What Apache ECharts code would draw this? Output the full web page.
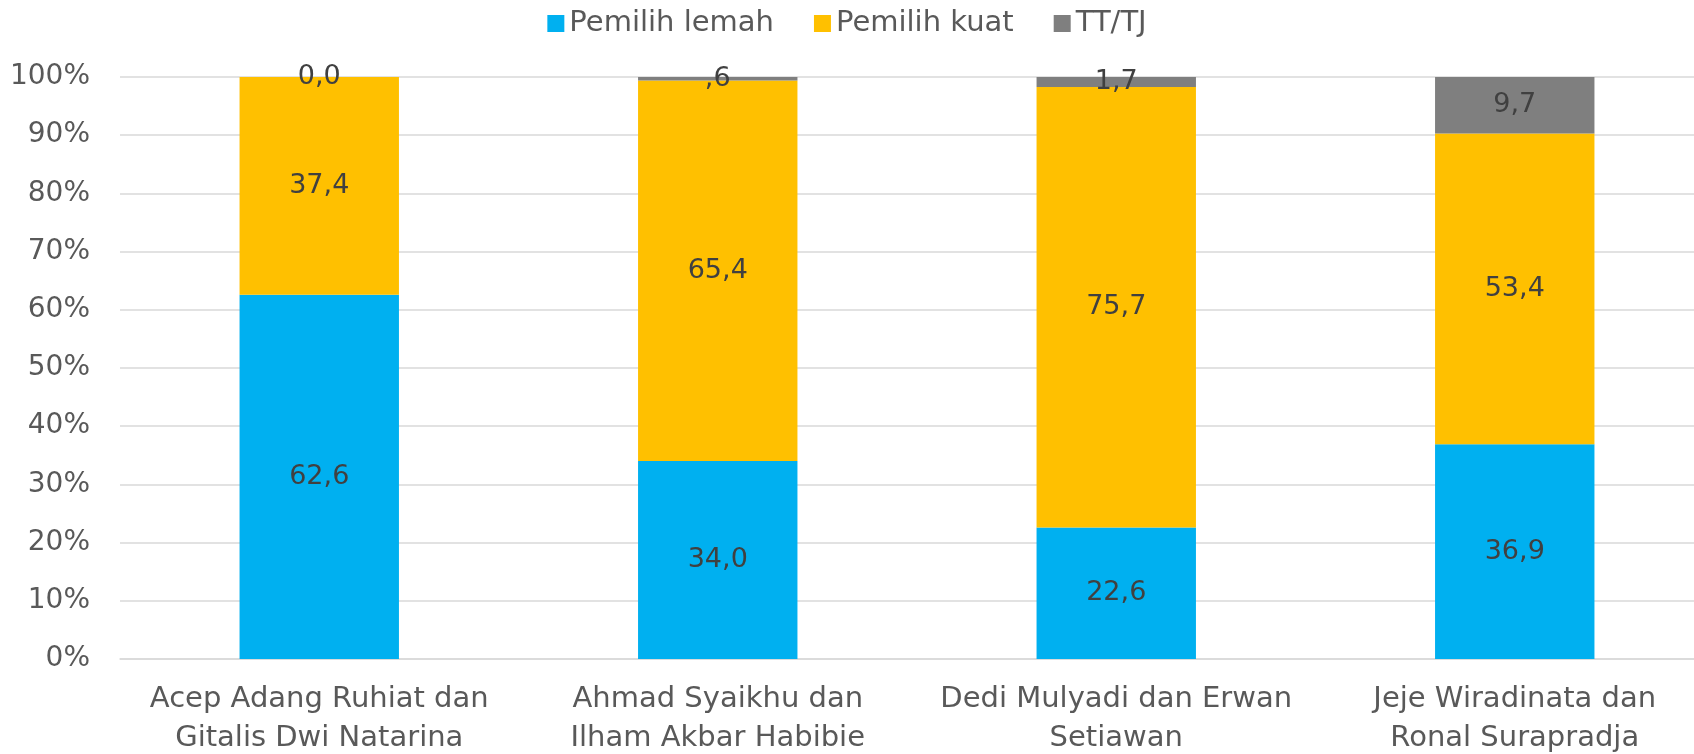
<!DOCTYPE html>
<html>
<head>
<meta charset="utf-8">
<script src="https://cdn.jsdelivr.net/npm/echarts@6/dist/echarts.min.js"></script>
<style>
  html, body { margin: 0; padding: 0; background: #fff; }
  #chart { width: 1694px; height: 754px; }
</style>
</head>
<body>
<div id="chart"></div>
<script>
const categories = [
  'Acep Adang Ruhiat dan\nGitalis Dwi Natarina',
  'Ahmad Syaikhu dan\nIlham Akbar Habibie',
  'Dedi Mulyadi dan Erwan\nSetiawan',
  'Jeje Wiradinata dan\nRonal Surapradja'
]
const lemah = [62.6, 34.0, 22.6, 36.9]
const kuat = [37.4, 65.4, 75.7, 53.4]
const ttj = [0.0, 0.6, 1.7, 9.7]
const yTicks = [0, 10, 20, 30, 40, 50, 60, 70, 80, 90, 100]

const font = 'DejaVu Sans'

// excel style: comma decimal, no leading zero below 1 (except 0)
function fmt(v) {
  if (v === 0) return '0,0'
  let s = v.toFixed(1).replace('.', ',')
  if (v < 1) s = s.slice(1)
  return s
}

function bar(name, data, color) {
  return {
    name: name,
    type: 'bar',
    stack: 'total',
    data: data,
    barWidth: '40%',
    itemStyle: { color: color },
    label: {
      show: true,
      position: 'inside',
      color: '#404040',
      fontFamily: font,
      fontSize: 27,
      formatter: (p) => fmt(p.value),
    },
  }
}

const chart = echarts.init(document.getElementById('chart'))
chart.setOption({
  animation: false,
  legend: {
    top: 4,
    left: 'center',
    itemWidth: 17,
    itemHeight: 17,
    itemGap: 40,
    icon: 'rect',
    textStyle: { color: '#595959', fontFamily: font, fontSize: 29 },
  },
  grid: {
    top: 77,
    left: 120,
    right: -20,
    bottom: 95,
    outerBoundsMode: 'none',
    containLabel: false,
  },
  xAxis: {
    type: 'category',
    data: categories,
    axisTick: { show: false },
    axisLine: { lineStyle: { color: '#d9d9d9', width: 1.5 } },
    axisLabel: {
      interval: 0,
      color: '#595959',
      fontFamily: font,
      fontSize: 29,
      lineHeight: 39,
      margin: 21,
    },
  },
  yAxis: {
    type: 'value',
    min: 0,
    max: 100,
    interval: 10,
    axisLine: { show: false },
    axisTick: { show: false },
    splitLine: { lineStyle: { color: '#d9d9d9', width: 1.5 } },
    axisLabel: {
      color: '#595959',
      fontFamily: font,
      fontSize: 28,
      margin: 30,
      formatter: (v) => (yTicks.includes(v) ? v + '%' : ''),
    },
  },
  series: [
    bar('Pemilih lemah', lemah, '#00b0f0'),
    bar('Pemilih kuat', kuat, '#ffc000'),
    bar('TT/TJ', ttj, '#7f7f7f'),
  ],
})
</script>
</body>
</html>
